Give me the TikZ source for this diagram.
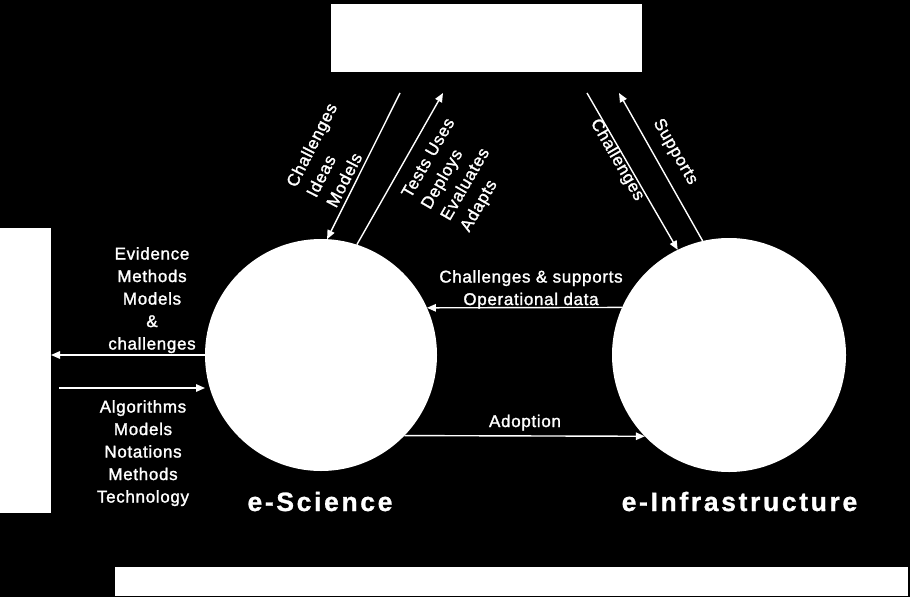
\documentclass[tikz,border=0pt]{standalone}
\usepackage{fontspec}
\setmainfont{Liberation Sans}
\usetikzlibrary{arrows.meta}
\tikzset{
  wbox/.style={rectangle, fill=white, draw=none, inner sep=0pt, outer sep=0pt},
  wcirc/.style={circle, fill=white, draw=none, inner sep=0pt, outer sep=0pt},
  arr/.style={white, line width=1.4pt, -{Triangle[length=9pt,width=7.5pt]}},
  lbl/.style={text=white, inner sep=0pt, align=center,
    font=\fontsize{17}{22.5}\selectfont\addfontfeature{LetterSpace=4,FakeBold=1.5}},
  lbll/.style={lbl, align=left},
  big/.style={text=white, inner sep=0pt, anchor=base,
    font=\fontsize{26.5}{30}\selectfont\bfseries\addfontfeature{LetterSpace=10,FakeBold=1}}
}
\begin{document}
\begin{tikzpicture}[x=1pt,y=-1pt]
\fill[black] (0,0) rectangle (910,597);
\useasboundingbox (0,0) rectangle (910,597);
% boxes
\node[wbox, minimum width=311pt, minimum height=68pt] (top) at (486.5,38) {};
\node[wbox, minimum width=51pt, minimum height=285pt] (lbox) at (25.5,370.5) {};
\node[wbox, minimum width=793pt, minimum height=29pt] (bbar) at (511.5,581.5) {};
% circles
\node[wcirc, minimum size=232pt] (sci) at (321,355) {};
\node[wcirc, minimum size=234pt] (inf) at (729,355) {};
% titles
\node[big] (tsci) at (320,511) {e-Science};
\node[big] (tinf) at (739.5,511) {e-Infrastructure};
% top arrows
\coordinate (a1) at (400,93);
\coordinate (a2) at (443,93);
\coordinate (a3) at (587,93);
\coordinate (a4) at (619,93);
\draw[arr] (a1) -- (sci.87);
\draw[arr] (sci.72) -- (a2);
\draw[arr] (a3) -- (inf.116);
\draw[arr] (inf.103) -- (a4);
% middle arrows
\draw[arr] (inf.156) -- (sci.24);
\draw[arr] (sci.-44) -- (inf.-136);
% left arrows
\coordinate (l1) at (59,388);
\coordinate (l2) at (205,388);
\draw[arr] (sci.west) -- (sci.west -| lbox.east);
\draw[arr] (l1) -- (l2);
% labels
\node[lbl, anchor=north] (ev) at (152,247) {Evidence\\Methods\\Models\\\&\\challenges};
\node[lbl, anchor=north] (al) at (143,400) {Algorithms\\Models\\Notations\\Methods\\Technology};
\node[lbl, anchor=north] (cs) at (531,270) {Challenges \& supports\\Operational data};
\node[lbl, anchor=base] (ad) at (525,427) {Adoption};
\node[lbll, rotate=63] (cim) at (331.5,155) {Challenges\\Ideas\\Models};
\node[lbll, rotate=60] (tu) at (458.5,175.4) {Tests Uses\\Deploys\\Evaluates\\Adapts};
\node[lbl, rotate=-60] (ch) at (617,160) {Challenges};
\node[lbl, rotate=-60] (sp) at (675,152) {Supports};
\end{tikzpicture}
\end{document}
